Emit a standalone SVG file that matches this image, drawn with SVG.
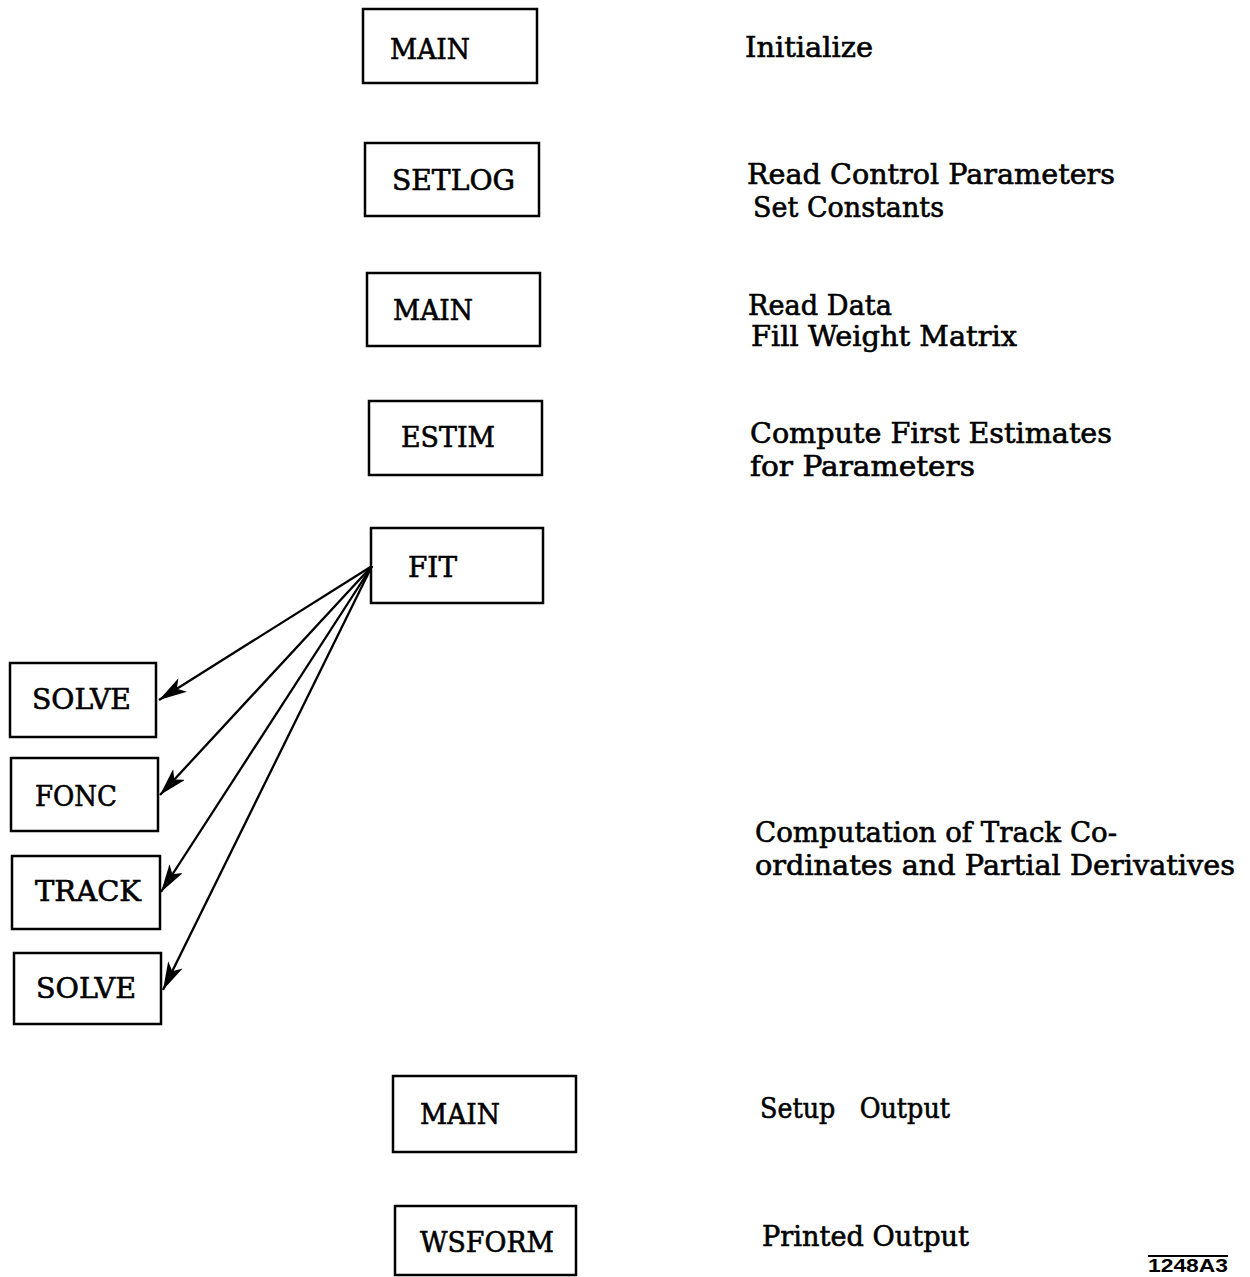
<svg xmlns="http://www.w3.org/2000/svg" width="1250" height="1277" viewBox="0 0 1250 1277">
<style>
.box{fill:#fff;stroke:#000;stroke-width:2.5}
.t{font-family:"DejaVu Serif","Liberation Serif",serif;font-size:27px;fill:#000;stroke:#000;stroke-width:0.6}
.d{font-family:"DejaVu Serif","Liberation Serif",serif;font-size:27px;fill:#000;stroke:#000;stroke-width:0.6}
.c{stroke:#000;stroke-width:2.3;fill:none}
</style>
<defs>
<marker id="ah" markerWidth="30" markerHeight="16" refX="28" refY="8" orient="auto" markerUnits="userSpaceOnUse">
<path d="M0,0 L28,8 L0,16 L7,8 Z" fill="#000"/>
</marker>
</defs>
<rect width="1250" height="1277" fill="#fff"/>
<g id="n-main1"><rect class="box" x="363" y="9" width="174" height="74"/><text class="t" x="390" y="59" textLength="80" lengthAdjust="spacingAndGlyphs">MAIN</text></g>
<g id="n-setlog"><rect class="box" x="365" y="143" width="174" height="73"/><text class="t" x="392" y="190" textLength="123" lengthAdjust="spacingAndGlyphs">SETLOG</text></g>
<g id="n-main2"><rect class="box" x="367" y="273" width="173" height="73"/><text class="t" x="393" y="320" textLength="80" lengthAdjust="spacingAndGlyphs">MAIN</text></g>
<g id="n-estim"><rect class="box" x="369" y="401" width="173" height="74"/><text class="t" x="401" y="447" textLength="94" lengthAdjust="spacingAndGlyphs">ESTIM</text></g>
<g id="n-fit"><rect class="box" x="371" y="528" width="172" height="75"/><text class="t" x="408" y="577" textLength="49" lengthAdjust="spacingAndGlyphs">FIT</text></g>
<g id="n-solve1"><rect class="box" x="10" y="663" width="146" height="74"/><text class="t" x="32" y="709" textLength="99" lengthAdjust="spacingAndGlyphs">SOLVE</text></g>
<g id="n-fonc"><rect class="box" x="11" y="758" width="147" height="73"/><text class="t" x="35" y="806" textLength="82" lengthAdjust="spacingAndGlyphs">FONC</text></g>
<g id="n-track"><rect class="box" x="12" y="856" width="148" height="73"/><text class="t" x="35" y="901" textLength="106" lengthAdjust="spacingAndGlyphs">TRACK</text></g>
<g id="n-solve2"><rect class="box" x="14" y="953" width="147" height="71"/><text class="t" x="36" y="998" textLength="100" lengthAdjust="spacingAndGlyphs">SOLVE</text></g>
<g id="n-main3"><rect class="box" x="393" y="1076" width="183" height="76"/><text class="t" x="420" y="1124" textLength="80" lengthAdjust="spacingAndGlyphs">MAIN</text></g>
<g id="n-wsform"><rect class="box" x="395" y="1206" width="181" height="69"/><text class="t" x="420" y="1252" textLength="134" lengthAdjust="spacingAndGlyphs">WSFORM</text></g>
<g id="connectors">
<line class="c" x1="372" y1="566" x2="159" y2="700" marker-end="url(#ah)"/>
<line class="c" x1="372" y1="566" x2="160" y2="795" marker-end="url(#ah)"/>
<line class="c" x1="372" y1="566" x2="161" y2="892" marker-end="url(#ah)"/>
<line class="c" x1="372" y1="566" x2="163" y2="990" marker-end="url(#ah)"/>
</g>
<g id="descriptions">
<text class="d" x="745" y="57" textLength="128" lengthAdjust="spacingAndGlyphs">Initialize</text>
<text class="d" x="747" y="184" textLength="368" lengthAdjust="spacingAndGlyphs">Read Control Parameters</text>
<text class="d" x="753" y="217" textLength="191" lengthAdjust="spacingAndGlyphs">Set Constants</text>
<text class="d" x="748" y="315" textLength="144" lengthAdjust="spacingAndGlyphs">Read Data</text>
<text class="d" x="751" y="346" textLength="266" lengthAdjust="spacingAndGlyphs">Fill Weight Matrix</text>
<text class="d" x="750" y="443" textLength="362" lengthAdjust="spacingAndGlyphs">Compute First Estimates</text>
<text class="d" x="750" y="476" textLength="225" lengthAdjust="spacingAndGlyphs">for Parameters</text>
<text class="d" x="755" y="842" textLength="362" lengthAdjust="spacingAndGlyphs">Computation of Track Co-</text>
<text class="d" x="755" y="875" textLength="480" lengthAdjust="spacingAndGlyphs">ordinates and Partial Derivatives</text>
<text class="d" x="760" y="1118" xml:space="preserve" textLength="190" lengthAdjust="spacingAndGlyphs">Setup   Output</text>
<text class="d" x="762" y="1246" textLength="207" lengthAdjust="spacingAndGlyphs">Printed Output</text>
</g>
<g id="figure-id">
<line x1="1148" y1="1256" x2="1228" y2="1256" stroke="#000" stroke-width="2"/>
<text x="1148" y="1272" font-family="'Liberation Sans',Arial,sans-serif" font-weight="bold" font-size="18" textLength="80" lengthAdjust="spacingAndGlyphs">1248A3</text>
</g>
</svg>
